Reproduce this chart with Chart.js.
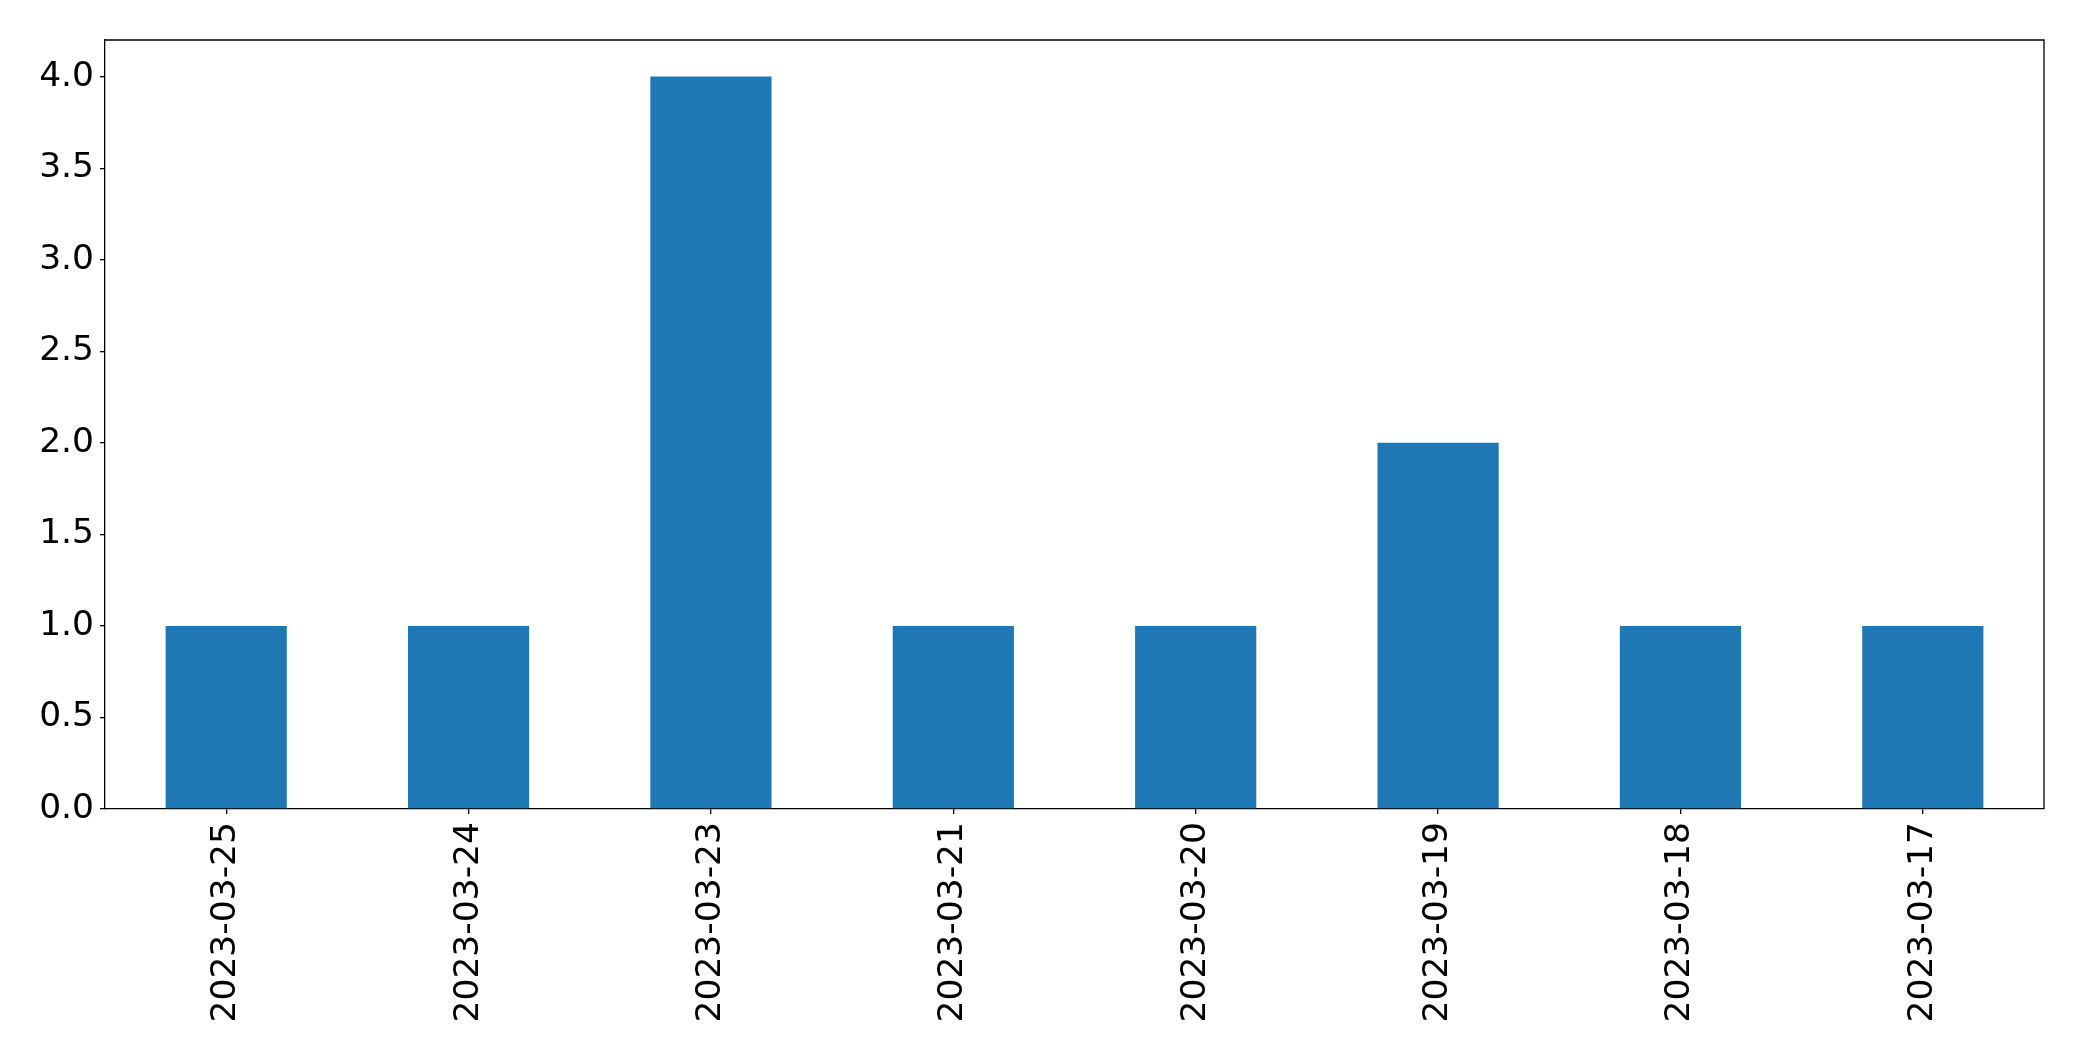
<!DOCTYPE html>
<html>
<head>
<meta charset="utf-8">
<script src="https://cdn.jsdelivr.net/npm/chart.js@4"></script>
<style>
  html, body { margin: 0; padding: 0; background: #fff; }
  #wrap { width: 2082px; height: 1061px; }
</style>
</head>
<body>
<div id="wrap"><canvas id="chart" width="2082" height="1061"></canvas></div>
<script>
// Data
const dates = ['2023-03-25', '2023-03-24', '2023-03-23', '2023-03-21', '2023-03-20', '2023-03-19', '2023-03-18', '2023-03-17'];
const counts = [1, 1, 4, 1, 1, 2, 1, 1];
const yTicks = [0, 0.5, 1, 1.5, 2, 2.5, 3, 3.5, 4];

const FONT = { family: "'DejaVu Sans'", size: 34.5 };

// top + right spines
const frame = {
    id: 'frame',
    afterDraw(chart) {
        const { ctx, chartArea: a } = chart;
        ctx.save();
        ctx.strokeStyle = '#000';
        ctx.lineWidth = 1.3;
        ctx.beginPath();
        ctx.moveTo(a.left, a.top);
        ctx.lineTo(a.right, a.top);
        ctx.lineTo(a.right, a.bottom);
        ctx.stroke();
        ctx.restore();
    }
};

new Chart(document.getElementById('chart'), {
    type: 'bar',
    data: {
        labels: dates,
        datasets: [{
            data: counts,
            backgroundColor: '#1f77b4',
            borderWidth: 0,
            categoryPercentage: 1,
            barPercentage: 0.5
        }]
    },
    options: {
        responsive: false,
        animation: false,
        layout: { padding: { top: 40, right: 38, left: 0, bottom: 0 } },
        plugins: { legend: { display: false }, tooltip: { enabled: false } },
        scales: {
            x: {
                grid: { display: true, drawOnChartArea: false, offset: false, tickLength: 5, color: '#000', lineWidth: 1.3 },
                border: { display: true, color: '#000', width: 1.3 },
                ticks: { color: '#000', font: FONT, minRotation: 90, maxRotation: 90, padding: 8, autoSkip: false },
                afterFit(scale) { scale.height = 1061 - 809; }
            },
            y: {
                min: 0,
                max: 4.2,
                afterBuildTicks(scale) { scale.ticks = yTicks.map(v => ({ value: v })); },
                grid: { display: true, drawOnChartArea: false, tickLength: 5, color: '#000', lineWidth: 1.3 },
                border: { display: true, color: '#000', width: 1.3 },
                ticks: { color: '#000', font: FONT, padding: 6, callback: v => Number(v).toFixed(1) },
                afterFit(scale) { scale.width = 105; }
            }
        }
    },
    plugins: [frame]
});
</script>
</body>
</html>
